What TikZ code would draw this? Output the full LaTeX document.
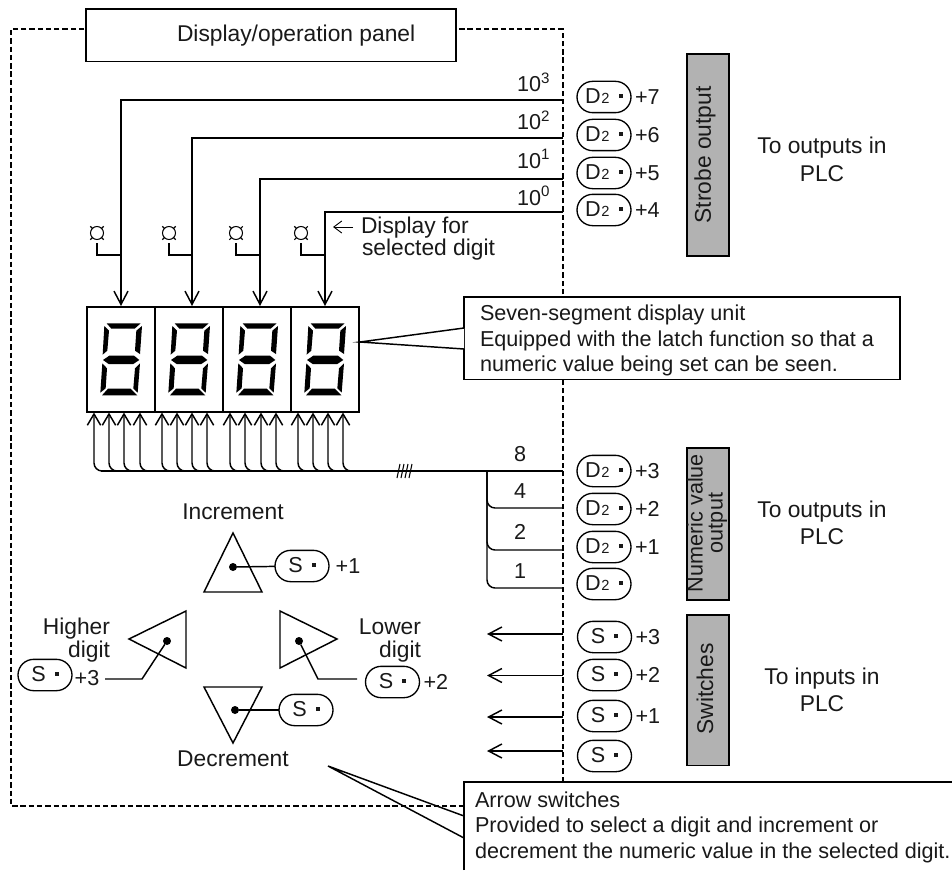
\documentclass[tikz,border=0pt]{standalone}
\usepackage{fontspec}
\setmainfont{Liberation Sans}
\usetikzlibrary{arrows.meta,shapes.misc}
\newcommand\mainsz{\fontsize{16.2}{18}\selectfont}
\newcommand\bigsz{\fontsize{17.1}{18}\selectfont}
\tikzset{
  every node/.style={font=\mainsz,inner sep=0pt,outer sep=0pt,text=black!90},
  big/.style={font=\bigsz},
  ln/.style={line width=1.1pt,draw=black,line join=miter},
  arr/.style={ln,-{Straight Barb[length=10pt,width=10.5pt,line width=1.1pt]}},
  arrsm/.style={ln,-{Straight Barb[length=8.5pt,width=10pt,line width=1.1pt]}},
  dashline/.style={line width=1pt,draw=black,dash pattern=on 4pt off 2.2pt},
  pill/.style={draw=black,line width=1pt,rounded rectangle,minimum width=40.5pt,minimum height=23.5pt,fill=white},
  gbox/.style={draw=black,line width=1.2pt,fill=black!30,minimum width=31.5pt,anchor=north west},
  callout/.style={draw=black,line width=1.1pt,fill=white,anchor=north west},
  lbl/.style={anchor=base},
  lft/.style={anchor=base west},
  rgt/.style={anchor=base east},
  tri/.style={draw=black,line width=1.1pt,line join=miter},
  dotn/.style={circle,fill=black,minimum size=6pt}
}
\newcommand\pilldot{\rule[4.2pt]{3pt}{3pt}\rule[-1.5pt]{0pt}{1.5pt}}
\newcommand\pillD{\makebox[28.5pt][l]{D\kern.6pt{\fontsize{11}{12}\selectfont 2}\hfill\pilldot}}
\newcommand\pillS{\makebox[20.6pt][l]{S\hfill\pilldot}}
\newcommand\pw{\textsuperscript}
\begin{document}
\begin{tikzpicture}[x=.75pt,y=-.75pt]
\useasboundingbox (0,0) rectangle (952,870);
% frame
\coordinate (fTR) at (563,29);
\coordinate (fBR) at (563,782);
\coordinate (fTL) at (11,29);
\coordinate (fBL) at (11,806);
\coordinate (fBE) at (464,806);
\draw[dashline] (fBR) -- (fTR) -- (fTL) -- (fBL) -- (fBE);
\node[draw=black,line width=1.1pt,fill=white,minimum width=277.5pt,minimum height=39.5pt,anchor=north west] (title) at (86,9) {};
\node[lft,big] (titletext) at (177,42) {Display/operation panel};
% display
\node[draw=black,line width=1.5pt,minimum width=204pt,minimum height=78.75pt,anchor=north west] (disp) at (87,307) {};
\foreach \x in {155,223,291} \draw[line width=1.5pt] (\x,307) -- (\x,412);
\foreach \d in {0,68,136,204}{
\begin{scope}[xshift=30pt+\d*.75pt,yshift=-165pt,x=.25pt,y=-.25pt]
\fill (200,310)--(302,310)--(284,326)--(214,326)--cycle;
\fill (306,318)--(300,402)--(285,392)--(289,332)--cycle;
\fill (193,318)--(207,332)--(202,392)--(188,404)--cycle;
\fill (189,420)--(208,407)--(282,407)--(298,420)--(280,432)--(206,432)--cycle;
\fill (187,430)--(201,445)--(197,505)--(181,518)--cycle;
\fill (300,430)--(293,518)--(280,505)--(285,445)--cycle;
\fill (186,526)--(204,506)--(272,506)--(292,526)--cycle;
\end{scope}}
% strobe outputs
\foreach \n/\y/\pl/\sy in {7/97/+7/100,6/135/+6/138,5/173/+5/179,4/210/+4/212}{
  \node[pill] (d\n) at (604,\y) {\pillD};
  \node[anchor=west] (dp\n) at ([xshift=3pt]d\n.east) {\pl};
  \coordinate (s\n) at (563,\sy);
}
\node[lft] (e3) at (517,92) {10\pw{3}};
\node[lft] (e2) at (517,130) {10\pw{2}};
\node[lft] (e1) at (517,168) {10\pw{1}};
\node[lft] (e0) at (517,205) {10\pw{0}};
\foreach \n/\x/\lx in {7/121/97,6/192/169,5/260/236,4/325/301}{
  \coordinate (top\n) at (\x,306);
  \draw[arr] (s\n) -| (top\n);
  \draw[line width=.8pt] (\lx,233) circle[radius=6.5];
  \foreach \a in {45,135,225,315} \draw[line width=.8pt] ([shift={(\a:6)}]\lx,233) -- ([shift={(\a:9.5)}]\lx,233);
  \coordinate (lamp\n) at (\lx,243);
  \coordinate (lj\n) at (\x,255);
  \draw[ln] (lamp\n) |- (lj\n);
}
% display for
\coordinate (df1) at (353,227);
\coordinate (df2) at (333,227);
\draw[line width=.7pt,-{Straight Barb[length=6pt,width=9pt,line width=.7pt]}] (df1) -- (df2);
\node[lft,big] (df) at (361,233) {Display for};
\node[lft,big] (ds) at (362,255) {selected digit};
% seven segment callout
\coordinate (c1a) at (464,328);
\coordinate (c1b) at (464,349);
\coordinate (c1t) at (360,342);
\node[callout,minimum width=327pt,minimum height=62pt] (cb1) at (464,297) {};
\fill[white] (c1a) -- (c1t) -- (c1b) -- cycle;
\draw[ln] (c1a) -- (c1t) -- (c1b);
\node[lft] (c1l1) at (480,320.5) {Seven-segment display unit};
\node[lft] (c1l2) at (480,346.5) {Equipped with the latch function so that a};
\node[lft] (c1l3) at (480,371.5) {numeric value being set can be seen.};
% bus
\coordinate (busR) at (563,471);
\draw[ln] (busR) -- (101,471);
\foreach \x in {94,109,124,140,162,177,192,207,230,245,261,276,298,313,328,343}{
  \coordinate (u\x) at (\x,412.5);
  \draw[arrsm,rounded corners=6pt] (\x+8,471) -| (u\x);
}
\foreach \x in {397,401,405,409} \draw[line width=.8pt] (\x,478) -- (\x+3,464);
\coordinate (bj) at (487,471);
\foreach \y in {508,550,588}{
  \coordinate (b\y) at (563,\y);
  \draw[ln,rounded corners=6pt] (bj) |- (b\y);
}
\node[lbl] (n8) at (520,461) {8};
\node[lbl] (n4) at (520,498) {4};
\node[lbl] (n2) at (520,539) {2};
\node[lbl] (n1) at (520,578) {1};
\foreach \n/\y/\pl in {3/471/+3,2/509/+2,1/547/+1}{
  \node[pill] (d\n) at (604,\y) {\pillD};
  \node[anchor=west] (dp\n) at ([xshift=3pt]d\n.east) {\pl};
}
\node[pill] (d0) at (604,584) {\pillD};
% input arrows
\foreach \n/\y/\ay/\pl in {3/637/634/+3,2/675/675.5/+2,1/716/717/+1}{
  \node[pill] (sw\n) at (604.5,\y) {\pillS};
  \node[anchor=west] (swp\n) at ([xshift=3pt]sw\n.east) {\pl};
  \coordinate (ar\n) at (563,\ay);
  \coordinate (al\n) at (487,\ay);
  \draw[arr] (ar\n) -- (al\n);
}
\node[pill] (sw0) at (604.5,756) {\pillS};
\coordinate (ar0) at (563,751);
\coordinate (al0) at (487,751);
\draw[arr] (ar0) -- (al0);
% gray boxes
\node[gbox,minimum height=151.5pt] (g1) at (687,54) {};
\node[rotate=90,big] (g1t) at (705,155) {Strobe output};
\node[gbox,minimum height=114pt] (g2) at (687,448) {};
\node[rotate=90,align=center,font=\fontsize{16.2}{15}\selectfont] (g2t) at (707,523) {Numeric value\\output};
\node[gbox,minimum height=113pt] (g3) at (687,615) {};
\node[rotate=90,big] (g3t) at (705,689) {Switches};
\node[lbl,big] (p1a) at (822,154) {To outputs in};
\node[lbl,big] (p1b) at (822,181) {PLC};
\node[lbl,big] (p2a) at (822,517) {To outputs in};
\node[lbl,big] (p2b) at (822,544) {PLC};
\node[lbl,big] (p3a) at (822,684) {To inputs in};
\node[lbl,big] (p3b) at (822,711) {PLC};
% arrow switches
\coordinate (tu1) at (233,533);\coordinate (tu2) at (204,592);\coordinate (tu3) at (262,592);
\draw[tri] (tu1)--(tu2)--(tu3)--cycle;
\node[dotn] (du) at (233,567) {};
\node[pill] (su) at (302,566) {\pillS};
\node[anchor=west] (sup) at ([xshift=5pt]su.east) {+1};
\draw[ln] (du) -- (su);
\node[lbl,big] (inc) at (233,519) {Increment};
\coordinate (tl1) at (129,639);\coordinate (tl2) at (186,611);\coordinate (tl3) at (186,668);
\draw[tri] (tl1)--(tl2)--(tl3)--cycle;
\node[dotn] (dl) at (167,641) {};
\coordinate (bl) at (142,679);\coordinate (el) at (105,679);
\draw[ln] (dl) -- (bl) -- (el);
\node[pill] (sl) at (45,675) {\pillS};
\node[anchor=west] (slp) at ([xshift=2pt,yshift=-2pt]sl.east) {+3};
\node[rgt,big] (hi) at (110,634) {Higher};
\node[rgt,big] (hd) at (110,657) {digit};
\coordinate (tr1) at (337,639);\coordinate (tr2) at (280,611);\coordinate (tr3) at (280,668);
\draw[tri] (tr1)--(tr2)--(tr3)--cycle;
\node[dotn] (dr) at (299,641) {};
\coordinate (br) at (318,679);\coordinate (er) at (357,679);
\draw[ln] (dr) -- (br) -- (er);
\node[pill] (sr) at (392.5,682) {\pillS};
\node[anchor=west] (srp) at ([xshift=3pt]sr.east) {+2};
\node[rgt,big] (lo) at (421,634) {Lower};
\node[rgt,big] (ld) at (421,657) {digit};
\coordinate (td1) at (204,687);\coordinate (td2) at (262,687);\coordinate (td3) at (233,743);
\draw[tri] (td1)--(td2)--(td3)--cycle;
\node[dotn] (dd) at (235,710) {};
\node[pill] (sd) at (306,710) {\pillS};
\draw[ln] (dd) -- (sd);
\node[lbl,big] (dec) at (233,766) {Decrement};
% arrow callout
\coordinate (c2t) at (328,766);
\coordinate (c2a) at (464,816);
\coordinate (c2b) at (464,838);
\coordinate (c2c) at (464,870);
\coordinate (c2d) at (952,782);
\coordinate (c2e) at (464,782);
\fill[white] (464,782) rectangle (952,870);
\draw[ln] (c2c) -- (c2e) -- (c2d);
\draw[ln] (c2a) -- (c2t) -- (c2b);
\node[lft] (c2l1) at (475,807) {Arrow switches};
\node[lft] (c2l2) at (475,832.5) {Provided to select a digit and increment or};
\node[lft] (c2l3) at (475,858) {decrement the numeric value in the selected digit.};
\end{tikzpicture}
\end{document}
